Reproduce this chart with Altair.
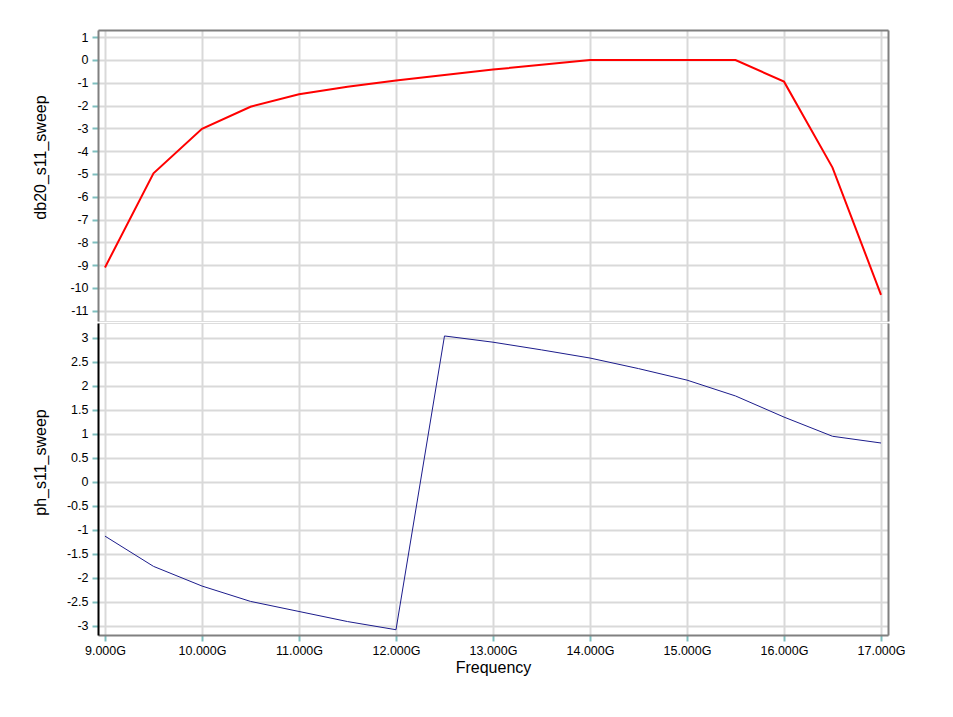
import altair as alt
import pandas as pd

freq_ghz = [9.0, 9.5, 10.0, 10.5, 11.0, 11.5, 12.0, 12.5, 13.0, 13.5, 14.0, 14.5, 15.0, 15.5, 16.0, 16.5, 17.0]
db20_s11 = [-9.1, -4.97, -3.02, -2.05, -1.5, -1.17, -0.9, -0.66, -0.42, -0.21, 0.0, 0.0, 0.0, 0.0, -0.95, -4.72, -10.3]
ph_s11 = [-1.13, -1.76, -2.17, -2.49, -2.70, -2.91, -3.08, 3.04, 2.91, 2.75, 2.58, 2.36, 2.12, 1.79, 1.35, 0.95, 0.81]

x_ticks = [9, 10, 11, 12, 13, 14, 15, 16, 17]
db_ticks = [1, 0, -1, -2, -3, -4, -5, -6, -7, -8, -9, -10, -11]
ph_ticks = [3, 2.5, 2, 1.5, 1, 0.5, 0, -0.5, -1, -1.5, -2, -2.5, -3]

df = pd.DataFrame({"freq": freq_ghz, "db20": db20_s11, "ph": ph_s11})

FONT = "Liberation Sans"
GRID = "#d9d9d9"
TICK = "#7fbfbf"
BORDER = "#808080"
W = 790
H_TOP = 291
H_BOT = 312
LABEL_SIZE = 12.5
TITLE_SIZE = 16

x_scale = alt.Scale(domain=[8.928, 17.072], nice=False, zero=False)
top_y_scale = alt.Scale(domain=[-11.45, 1.316], nice=False, zero=False)
bot_y_scale = alt.Scale(domain=[-3.19, 3.31], nice=False, zero=False)

common_y = dict(
    grid=True, gridColor=GRID, gridWidth=2,
    tickColor=TICK, tickWidth=2, tickSize=6,
    labelFont=FONT, labelFontSize=LABEL_SIZE, labelColor="#000000", labelPadding=4,
    titleFont=FONT, titleFontSize=TITLE_SIZE, titleFontWeight="normal", titleColor="#000000",
    domainWidth=2, labelExpr="datum.value + ''",
)

bottom_x_axis = alt.Axis(values=x_ticks, grid=True, gridColor=GRID, gridWidth=2,
                         tickColor=TICK, tickWidth=2, tickSize=6,
                         labelFont=FONT, labelFontSize=LABEL_SIZE, labelColor="#000000", labelPadding=3,
                         labelExpr="format(datum.value, '.3f') + 'G'",
                         domainColor=BORDER, domainWidth=2,
                         title="Frequency", titleFont=FONT, titleFontSize=TITLE_SIZE,
                         titleFontWeight="normal", titleColor="#000000", titlePadding=3)

# ---------- top panel ----------
top_line = alt.Chart(df).mark_line(color="#ff0000", strokeWidth=2).encode(
    x=alt.X("freq:Q", scale=x_scale,
            axis=alt.Axis(values=x_ticks, grid=True, gridColor=GRID, gridWidth=2,
                          labels=False, ticks=False, domain=False, title=None)),
    y=alt.Y("db20:Q", scale=top_y_scale,
            axis=alt.Axis(values=db_ticks, title="db20_s11_sweep", domainColor=BORDER,
                          titleX=-58, titleY=127, titleBaseline="middle", **common_y)),
)
top_frame = alt.Chart(df).mark_line(strokeOpacity=0).encode(
    x=alt.X("freq:Q", scale=x_scale,
            axis=alt.Axis(orient="top", values=x_ticks, grid=False, labels=False, ticks=False,
                          domain=True, domainColor=BORDER, domainWidth=2, title=None)),
    y=alt.Y("db20:Q", scale=top_y_scale,
            axis=alt.Axis(orient="right", values=db_ticks, grid=False, labels=False, ticks=False,
                          domain=True, domainColor=BORDER, domainWidth=2, title=None)),
)
top = alt.layer(top_line, top_frame).resolve_axis(x="independent", y="independent").properties(
    width=W, height=H_TOP)

# ---------- bottom panel ----------
bot_line = alt.Chart(df).mark_line(color="#1c1c8c", strokeWidth=1).encode(
    x=alt.X("freq:Q", scale=x_scale, axis=bottom_x_axis),
    y=alt.Y("ph:Q", scale=bot_y_scale,
            axis=alt.Axis(values=ph_ticks, title="ph_s11_sweep", domainColor="#000000",
                          titleX=-58, titleY=139, titleBaseline="middle", **common_y)),
)
bot_frame = alt.Chart(df).mark_line(strokeOpacity=0).encode(
    x=alt.X("freq:Q", scale=x_scale, axis=bottom_x_axis),
    y=alt.Y("ph:Q", scale=bot_y_scale,
            axis=alt.Axis(orient="right", values=ph_ticks, grid=False, labels=False, ticks=False,
                          domain=True, domainColor=BORDER, domainWidth=2, title=None)),
)
bot = alt.layer(bot_line, bot_frame).resolve_axis(y="independent").properties(
    width=W, height=H_BOT)

chart = alt.vconcat(top, bot, spacing=0).properties(
    padding={"left": 23, "top": 21, "right": 20, "bottom": 10},
).configure_view(stroke=None).configure(background="#ffffff")

chart.save("out.html", embed_options={"renderer": "svg", "actions": False})
